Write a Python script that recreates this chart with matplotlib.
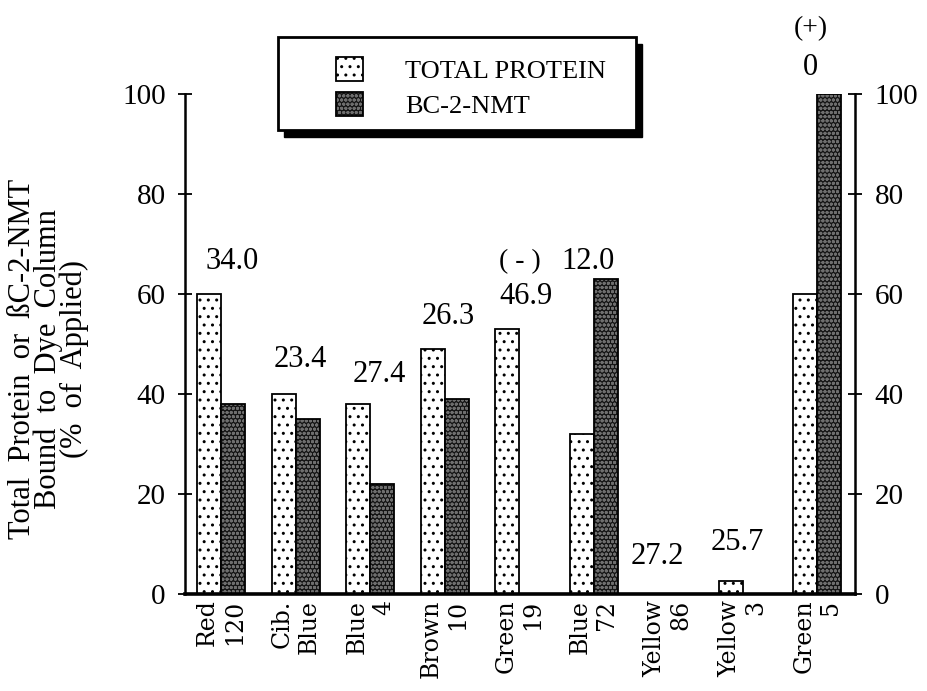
import matplotlib
matplotlib.use("Agg")
import matplotlib.pyplot as plt
from matplotlib.patches import Rectangle, Patch
import numpy as np

# ---- data -------------------------------------------------------------
dyes = ["Red\n120", "Cib.\nBlue", "Blue\n4", "Brown\n10", "Green\n19",
        "Blue\n72", "Yellow\n86", "Yellow\n3", "Green\n5"]
total_protein = [60, 40, 38, 49, 53, 32, 0, 2.5, 60]
bc2_nmt = [38, 35, 22, 39, 0, 63, 0, 0, 100]
bar_notes = ["34.0", "23.4", "27.4", "26.3", "46.9", "12.0", "27.2", "25.7", "0"]
y_ticks = [0, 20, 40, 60, 80, 100]

# ---- layout for the notes above each group (x offset, y in data units) --
note_dx = [0.15, 0.06, 0.13, 0.05, 0.09, -0.07, -0.15, -0.07, -0.09]
note_y = [66.4, 46.8, 43.8, 55.4, 59.4, 66.4, 7.4, 10.2, 105.2]

serif = ["Liberation Serif", "DejaVu Serif"]
plt.rcParams["font.family"] = serif
plt.rcParams["hatch.linewidth"] = 1.0

fig = plt.figure(figsize=(9.28, 6.91), dpi=100)
ax = fig.add_axes([0.1994, 0.1404, 0.7220, 0.7236])

x = np.arange(len(dyes))
w = 0.322

# total protein: white with sparse black dots
ax.bar(x - w / 2, total_protein, w, facecolor="white", edgecolor="black",
       hatch="..", linewidth=1.3, zorder=2)

# BC-2-NMT: dark fill with a fine grey dot texture, then the outline
nmt_fill, nmt_dots, nmt_hatch = "#151515", "#6e6e6e", "oooo"
ax.bar(x + w / 2, bc2_nmt, w, facecolor=nmt_fill, edgecolor=nmt_dots,
       hatch=nmt_hatch, linewidth=0, zorder=2)
ax.bar(x + w / 2, bc2_nmt, w, facecolor="none", edgecolor="black",
       linewidth=1.3, zorder=3)

ax.set_xlim(-0.483, 8.51)
ax.set_ylim(0, 100)

# axes frame: left, right and bottom only
for side in ("left", "right"):
    ax.spines[side].set_linewidth(1.8)
ax.spines["bottom"].set_linewidth(2.6)
ax.spines["top"].set_visible(False)

ax.set_yticks(y_ticks)
ax.tick_params(axis="y", which="both", direction="inout", length=10, width=1.3,
               labelsize=21, pad=9, left=True, right=True,
               labelleft=True, labelright=True)
ax.set_xticks(x)
ax.set_xticklabels(dyes, rotation=90, fontsize=17, family=["DejaVu Serif"],
                   va="top", ha="center", multialignment="right",
                   linespacing=1.2)
ax.tick_params(axis="x", length=0, pad=4)

ax.set_ylabel("Total  Protein  or  ßC-2-NMT\nBound  to  Dye  Column\n(%  of  Applied)",
              fontsize=22, linespacing=0.85, va="center")
ax.yaxis.set_label_coords(-0.204, 0.47)

# notes above the bar groups
for xi, dx, yy, s in zip(x, note_dx, note_y, bar_notes):
    ax.text(xi + dx, yy, s, ha="center", va="center", fontsize=22, clip_on=False)
ax.text(4 + 0.01, 66.4, "( - )", ha="center", va="center", fontsize=20)
ax.text(8 - 0.09, 113.0, "(+)", ha="center", va="center", fontsize=20, clip_on=False)

# legend box with a solid drop shadow
bx0, by0, bw, bh = 278 / 928, 1 - 130 / 691, (636 - 278) / 928, (130 - 37) / 691
sx, sy = 6 / 928, 7 / 691
fig.patches.append(Rectangle((bx0 + sx, by0 - sy), bw, bh, transform=fig.transFigure,
                             facecolor="black", edgecolor="black", zorder=5))
fig.patches.append(Rectangle((bx0, by0), bw, bh, transform=fig.transFigure,
                             facecolor="white", edgecolor="black", linewidth=2.0,
                             zorder=6))
handles = [Patch(facecolor="white", edgecolor="black", hatch="..", linewidth=1.3),
           (Patch(facecolor=nmt_fill, edgecolor=nmt_dots, hatch=nmt_hatch, linewidth=0),
            Patch(facecolor="none", edgecolor="black", linewidth=1.3))]
leg = fig.legend(handles, ["TOTAL PROTEIN", "BC-2-NMT"], loc="upper left",
                 bbox_to_anchor=(323 / 928, 1 - 44 / 691), frameon=False,
                 fontsize=19, handlelength=1.0, handleheight=1.0,
                 handletextpad=1.6, labelspacing=0.35, borderpad=0.0)
leg.set_zorder(7)

fig.savefig("out.png", dpi=100)
